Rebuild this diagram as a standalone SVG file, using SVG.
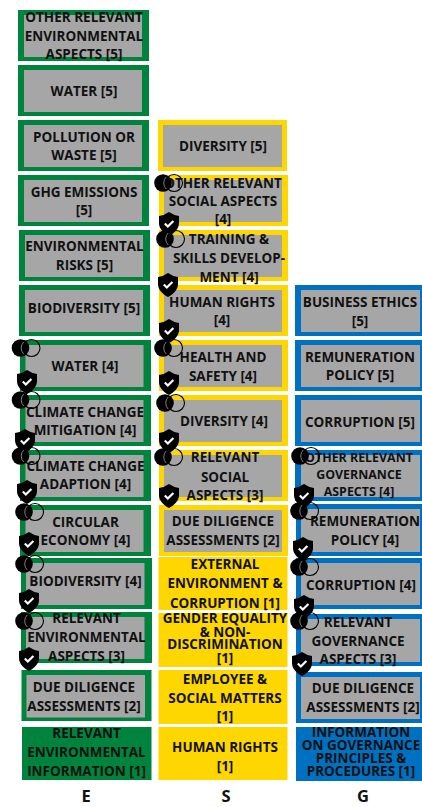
<svg xmlns="http://www.w3.org/2000/svg" width="422" height="807" viewBox="0 0 422 807">
<style>
.t{font-family:"Open Sans","Noto Sans",sans-serif;font-weight:700;font-size:13.5px;fill:#111;text-anchor:middle}
.h{font-family:"Open Sans","Noto Sans",sans-serif;font-weight:700;font-size:16.5px;fill:#111;text-anchor:middle}
.sm{font-size:12.4px}
.i{fill:#a6a6a6}
.ef{fill:#00843d}
.sf{fill:#ffd700}
.gf{fill:#0070c0}
</style>
<defs>
<g id="venn"><circle cx="11" r="8.5" fill="none" stroke="#000" stroke-width="1.1"/><circle r="8.8" fill="#000"/><path d="M3.2-6A8.5 8.5 0 0 0 3.2 6" fill="none" stroke="#8a8a8a" stroke-width="0.9"/></g>
<g id="shield"><path d="M0 0Q5 3.5 10 4V11C10 17 5 21.5 0 24C-5 21.5-10 17-10 11V4Q-5 3.5 0 0Z" fill="#000"/><path d="M-4.2 11.5L-1.2 14.5L4.4 9" fill="none" stroke="#fff" stroke-width="2.2"/></g>
</defs>
<g id="e-other-5"><rect class="ef" x="18" y="10" width="131" height="51"/><rect class="i" x="24" y="15" width="118" height="42"/><text class="t"><tspan x="84" y="22">OTHER RELEVANT</tspan><tspan x="84" y="41">ENVIRONMENTAL</tspan><tspan x="84" y="59">ASPECTS [5]</tspan></text></g>
<g id="e-water-5"><rect class="ef" x="18" y="65" width="131" height="51"/><rect class="i" x="24" y="70" width="118" height="42"/><text class="t" x="84" y="96">WATER [5]</text></g>
<g id="e-pollution-5"><rect class="ef" x="18" y="120" width="131" height="51"/><rect class="i" x="24" y="125" width="118" height="42"/><text class="t"><tspan x="84" y="142">POLLUTION OR</tspan><tspan x="84" y="160">WASTE [5]</tspan></text></g>
<g id="e-ghg-5"><rect class="ef" x="18" y="175" width="131" height="51"/><rect class="i" x="24" y="180" width="118" height="42"/><text class="t"><tspan x="84" y="197">GHG EMISSIONS</tspan><tspan x="84" y="215">[5]</tspan></text></g>
<g id="e-risks-5"><rect class="ef" x="19" y="230" width="131" height="51"/><rect class="i" x="25" y="235" width="118" height="42"/><text class="t"><tspan x="84.5" y="251">ENVIRONMENTAL</tspan><tspan x="84.5" y="270">RISKS [5]</tspan></text></g>
<g id="e-bio-5"><rect class="ef" x="19" y="285" width="131" height="51"/><rect class="i" x="25" y="290" width="118" height="42"/><text class="t" x="84" y="313">BIODIVERSITY [5]</text></g>
<g id="e-water-4"><rect class="ef" x="20" y="340" width="131" height="51"/><rect class="i" x="25.5" y="345" width="118" height="42"/><text class="t" x="85" y="371">WATER [4]</text></g>
<g id="e-mitigation-4"><rect class="ef" x="20" y="395" width="131" height="51"/><rect class="i" x="25.5" y="400" width="118" height="42"/><text class="t"><tspan x="85" y="417">CLIMATE CHANGE</tspan><tspan x="85" y="435">MITIGATION [4]</tspan></text></g>
<g id="e-adaption-4"><rect class="ef" x="20" y="450" width="131" height="51"/><rect class="i" x="25.5" y="455" width="118" height="42"/><text class="t"><tspan x="85.5" y="471">CLIMATE CHANGE</tspan><tspan x="85.5" y="489">ADAPTION [4]</tspan></text></g>
<g id="e-circular-4"><rect class="ef" x="20" y="505" width="131" height="51"/><rect class="i" x="25.5" y="510" width="118" height="42"/><text class="t"><tspan x="85.5" y="527">CIRCULAR</tspan><tspan x="85.5" y="545">ECONOMY [4]</tspan></text></g>
<g id="e-bio-4"><rect class="ef" x="21" y="558" width="131" height="51"/><rect class="i" x="26" y="563" width="118.5" height="42"/><text class="t" x="85.5" y="586">BIODIVERSITY [4]</text></g>
<g id="e-relevant-3"><rect class="ef" x="21" y="612" width="131" height="51"/><rect class="i" x="26" y="617" width="118.5" height="42"/><text class="t"><tspan x="86.5" y="623">RELEVANT</tspan><tspan x="86.5" y="642">ENVIRONMENTAL</tspan><tspan x="86.5" y="661">ASPECTS [3]</tspan></text></g>
<g id="e-dd-2"><rect class="ef" x="21.5" y="670" width="130" height="51"/><rect class="i" x="26.5" y="675" width="118.5" height="42.5"/><text class="t"><tspan x="84" y="692">DUE DILIGENCE</tspan><tspan x="84" y="711">ASSESSMENTS [2]</tspan></text></g>
<g id="e-info-1"><rect class="ef" x="22" y="727" width="129.5" height="53"/><text class="t"><tspan x="86.5" y="738">RELEVANT</tspan><tspan x="86.5" y="757">ENVIRONMENTAL</tspan><tspan x="86.5" y="776">INFORMATION [1]</tspan></text></g>

<g id="s-diversity-5"><rect class="sf" x="158" y="120" width="129" height="51"/><rect class="i" x="163" y="125" width="119" height="42"/><text class="t" x="223" y="151">DIVERSITY [5]</text></g>
<g id="s-other-4"><rect class="sf" x="159" y="175" width="129" height="51"/><rect class="i" x="164" y="180" width="118" height="42"/><text class="t"><tspan x="223" y="188">OTHER RELEVANT</tspan><tspan x="223" y="206">SOCIAL ASPECTS</tspan><tspan x="223" y="224">[4]</tspan></text></g>
<g id="s-training-4"><rect class="sf" x="159" y="230" width="129" height="51"/><rect class="i" x="164" y="235" width="118" height="42"/><text class="t"><tspan x="229" y="244">TRAINING &amp;</tspan><tspan x="229" y="263">SKILLS DEVELOP-</tspan><tspan x="229" y="282">MENT [4]</tspan></text></g>
<g id="s-rights-4"><rect class="sf" x="159" y="285" width="129" height="51"/><rect class="i" x="164" y="290" width="118" height="42"/><text class="t"><tspan x="222" y="307">HUMAN RIGHTS</tspan><tspan x="222" y="325">[4]</tspan></text></g>
<g id="s-health-4"><rect class="sf" x="159" y="340" width="129" height="51"/><rect class="i" x="164" y="345" width="118" height="42"/><text class="t"><tspan x="223" y="362">HEALTH AND</tspan><tspan x="223" y="381">SAFETY [4]</tspan></text></g>
<g id="s-diversity-4"><rect class="sf" x="159" y="395" width="129" height="51"/><rect class="i" x="164" y="400" width="118" height="42"/><text class="t" x="224" y="426">DIVERSITY [4]</text></g>
<g id="s-relevant-3"><rect class="sf" x="159" y="450" width="129" height="51"/><rect class="i" x="164" y="455" width="118" height="42"/><text class="t"><tspan x="225" y="462">RELEVANT</tspan><tspan x="225" y="482">SOCIAL</tspan><tspan x="225" y="500">ASPECTS [3]</tspan></text></g>
<g id="s-dd-2"><rect class="sf" x="159" y="505" width="129" height="51"/><rect class="i" x="164" y="510" width="118" height="42"/><text class="t"><tspan x="223" y="526">DUE DILIGENCE</tspan><tspan x="223" y="545">ASSESSMENTS [2]</tspan></text></g>
<g id="s-external-1"><rect class="sf" x="158.5" y="557" width="129" height="53"/><text class="t"><tspan x="225" y="569">EXTERNAL</tspan><tspan x="225" y="588">ENVIRONMENT &amp;</tspan><tspan x="225" y="608">CORRUPTION [1]</tspan></text></g>
<g id="s-gender-1"><rect class="sf" x="158.5" y="613" width="129" height="54"/><text class="t"><tspan x="225" y="623">GENDER EQUALITY</tspan><tspan x="225" y="637">&amp; NON-</tspan><tspan x="225" y="649">DISCRIMINATION</tspan><tspan x="225" y="663">[1]</tspan></text></g>
<g id="s-employee-1"><rect class="sf" x="158.5" y="670" width="129" height="54"/><text class="t"><tspan x="225" y="684">EMPLOYEE &amp;</tspan><tspan x="225" y="703">SOCIAL MATTERS</tspan><tspan x="225" y="721">[1]</tspan></text></g>
<g id="s-rights-1"><rect class="sf" x="158.5" y="727" width="129" height="53"/><text class="t"><tspan x="225" y="752">HUMAN RIGHTS</tspan><tspan x="225" y="771">[1]</tspan></text></g>

<g id="g-ethics-5"><rect class="gf" x="295" y="285" width="127" height="51"/><rect class="i" x="301" y="290" width="119" height="42"/><text class="t"><tspan x="360" y="307">BUSINESS ETHICS</tspan><tspan x="360" y="326">[5]</tspan></text></g>
<g id="g-remuneration-5"><rect class="gf" x="295" y="340" width="127" height="51"/><rect class="i" x="301" y="345" width="119" height="42"/><text class="t"><tspan x="360" y="362">REMUNERATION</tspan><tspan x="360" y="380">POLICY [5]</tspan></text></g>
<g id="g-corruption-5"><rect class="gf" x="295" y="395" width="127" height="51"/><rect class="i" x="301" y="400" width="119" height="42"/><text class="t" x="360" y="427">CORRUPTION [5]</text></g>
<g id="g-other-4"><rect class="gf" x="295" y="450" width="127" height="51"/><rect class="i" x="301" y="455" width="119" height="42"/><text class="t sm"><tspan x="359" y="462">OTHER RELEVANT</tspan><tspan x="359" y="479">GOVERNANCE</tspan><tspan x="359" y="496">ASPECTS [4]</tspan></text></g>
<g id="g-remuneration-4"><rect class="gf" x="296" y="504" width="126" height="52"/><rect class="i" x="301" y="509" width="119" height="43"/><text class="t"><tspan x="365" y="526">REMUNERATION</tspan><tspan x="365" y="545">POLICY [4]</tspan></text></g>
<g id="g-corruption-4"><rect class="gf" x="296" y="558" width="126" height="51"/><rect class="i" x="301" y="563" width="119" height="42"/><text class="t" x="361" y="590">CORRUPTION [4]</text></g>
<g id="g-relevant-3"><rect class="gf" x="296" y="614" width="126" height="52"/><rect class="i" x="301" y="619" width="119" height="43"/><text class="t"><tspan x="358" y="627">RELEVANT</tspan><tspan x="358" y="646">GOVERNANCE</tspan><tspan x="358" y="664">ASPECTS [3]</tspan></text></g>
<g id="g-dd-2"><rect class="gf" x="296" y="672" width="126" height="51"/><rect class="i" x="301" y="677" width="119" height="42"/><text class="t"><tspan x="363" y="693">DUE DILIGENCE</tspan><tspan x="363" y="712">ASSESSMENTS [2]</tspan></text></g>
<g id="g-info-1"><rect class="gf" x="296" y="727" width="126" height="54"/><text class="t"><tspan x="361" y="737">INFORMATION</tspan><tspan x="361" y="750">ON GOVERNANCE</tspan><tspan x="361" y="763">PRINCIPLES &amp;</tspan><tspan x="361" y="776">PROCEDURES [1]</tspan></text></g>

<g id="icons">
<use href="#venn" x="20.5" y="348"/><use href="#shield" x="27" y="370"/>
<use href="#venn" x="20.5" y="400"/><use href="#shield" x="25" y="429"/>
<use href="#venn" x="20.5" y="456"/><use href="#shield" x="27" y="480"/>
<use href="#venn" x="24" y="512"/><use href="#shield" x="29" y="532"/>
<use href="#venn" x="24" y="564"/><use href="#shield" x="29" y="589"/>
<use href="#venn" x="24" y="621"/><use href="#shield" x="29" y="647"/>
<use href="#venn" x="163" y="183"/><use href="#shield" x="169" y="212"/>
<use href="#venn" x="165" y="239"/><use href="#shield" x="168" y="273"/>
<use href="#shield" x="169" y="319"/>
<use href="#venn" x="163" y="348"/><use href="#shield" x="169" y="371"/>
<use href="#venn" x="165" y="403"/><use href="#shield" x="169" y="429"/>
<use href="#venn" x="163" y="457"/><use href="#shield" x="169" y="484"/>
<use href="#venn" x="300" y="456"/><use href="#shield" x="304" y="484"/>
<use href="#venn" x="299" y="511"/><use href="#shield" x="303" y="537"/>
<use href="#venn" x="299" y="567"/><use href="#shield" x="304" y="595"/>
<use href="#venn" x="299" y="621"/><use href="#shield" x="302" y="652"/>
</g>
<text class="h" x="86" y="802">E</text>
<text class="h" x="226" y="802">S</text>
<text class="h" x="363" y="802">G</text>
</svg>
